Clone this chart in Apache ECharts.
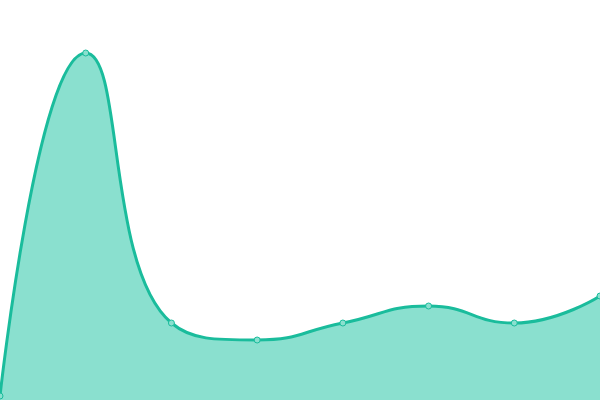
<!DOCTYPE html>
<html>
<head>
<meta charset="utf-8">
<script src="https://cdn.jsdelivr.net/npm/echarts@6/dist/echarts.min.js"></script>
<style>
  html, body { margin: 0; padding: 0; background: #fff; }
  #chart { width: 600px; height: 400px; }
</style>
</head>
<body>
<div id="chart"></div>
<script>
// chart data
var categories = ['1', '2', '3', '4', '5', '6', '7', '8'];
var values = [4, 347, 77, 60, 77, 94, 77, 104];

var chart = echarts.init(document.getElementById('chart'));

var option = {
    animation: false,
    grid: { left: 0, right: 0, top: 0, bottom: 0 },
    xAxis: {
        type: 'category',
        boundaryGap: false,
        data: categories,
        show: false
    },
    yAxis: {
        type: 'value',
        min: 0,
        max: 400,
        show: false
    },
    series: [
        {
            type: 'line',
            data: values,
            smooth: true,
            symbol: 'circle',
            symbolSize: 6,
            lineStyle: { color: '#1abc9c', width: 3 },
            itemStyle: { color: '#8ae0cf', borderColor: '#1abc9c', borderWidth: 1 },
            areaStyle: { color: '#8ae0cf', opacity: 1 }
        }
    ]
};

chart.setOption(option);
</script>
</body>
</html>
